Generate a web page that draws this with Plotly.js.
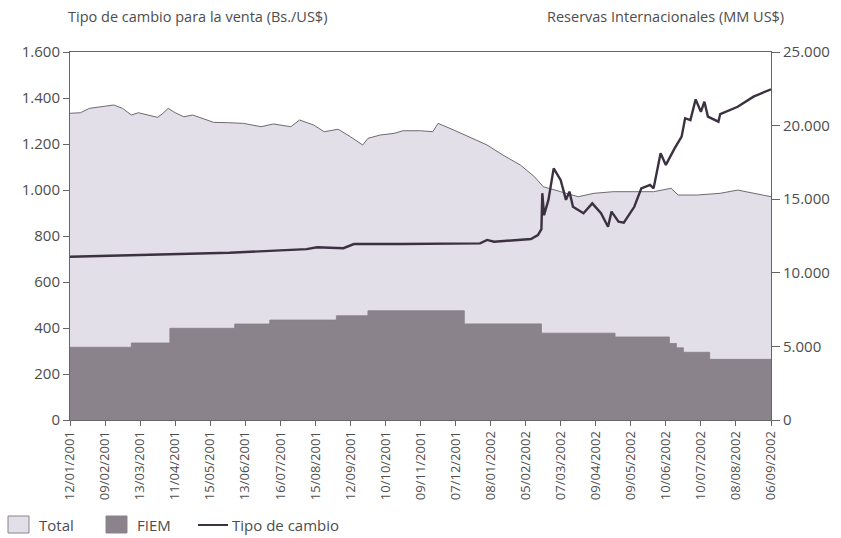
<!DOCTYPE html>
<html>
<head>
<meta charset="utf-8">
<script src="https://cdn.plot.ly/plotly-3.0.1.min.js"></script>
<style>html,body{margin:0;padding:0;background:#fff;}#chart{width:841px;height:538px;}</style>
</head>
<body>
<div id="chart"></div>
<script>
// Tick labels (one every 20 business days)
const tickLabels = ["12/01/2001","09/02/2001","13/03/2001","11/04/2001","15/05/2001","13/06/2001","16/07/2001","15/08/2001","12/09/2001","10/10/2001","09/11/2001","07/12/2001","08/01/2002","05/02/2002","07/03/2002","09/04/2002","09/05/2002","10/06/2002","10/07/2002","08/08/2002","06/09/2002"];
const daysPerTick = 20;

// Reservas internacionales totales (MM US$), by business-day index
const totalDay = [0,6,11,19,25,30,35,39,44,50,53,56,60,65,70,76,82,90,99,109,116,126,131,139,145,153,160,167,170,177,185,190,200,207,210,219,229,238,247,257,265,270,280,290,299,310,322,333,343,347,358,371,381,390,400];
const totalMM  = [20835,20875,21170,21330,21400,21170,20720,20875,20720,20560,20830,21170,20875,20600,20720,20490,20220,20200,20150,19925,20110,19925,20380,20040,19585,19750,19245,18680,19135,19360,19475,19650,19650,19585,20150,19700,19135,18680,18000,17320,16530,15850,15510,15170,15400,15510,15510,15510,15740,15285,15285,15400,15620,15400,15170];

// FIEM (MM US$), step changes
const fiemDay = [0,35,57,94,114,152,170,225,269,311,342,346,350,365,400];
const fiemMM  = [4940,5230,6230,6520,6790,7080,7420,6530,5900,5640,5200,4900,4600,4120,4120];

// Tipo de cambio para la venta (Bs./US$)
const tcDay = [0,46,91,135,141,156,162,189,234,238,242,263,267,269,269.5,270.5,273,276,280,283,285,287,293,298,303,307,309,313,316,322,326,331,333,337,340,345,349,351,354,357,360,362,364,370,371,381,390,400];
const tcBs  = [710,718,727,743,751,747,765,765,768,783,775,787,804,830,986,891,957,1094,1043,957,993,927,899,942,899,840,906,862,858,927,1007,1022,1007,1160,1109,1181,1232,1312,1304,1394,1340,1384,1319,1297,1330,1362,1406,1438];

// Legend entries
const legendNames = ["Total", "FIEM", "Tipo de cambio"];

const FONT = "Open Sans, Noto Sans, sans-serif";
const TXT = "#4d4d4d";
const TOTAL_FILL = "#e2dfe9", TOTAL_LINE = "#6f6a72";
const FIEM_FILL = "#8b838c";
const TC_LINE = "#3b3140";

const traces = [
  {x: totalDay, y: totalMM, name: legendNames[0], type: "scatter", mode: "lines", fill: "tozeroy",
   fillcolor: TOTAL_FILL, line: {color: TOTAL_LINE, width: 1}, yaxis: "y"},
  {x: fiemDay, y: fiemMM, name: legendNames[1], type: "scatter", mode: "lines", fill: "tozeroy",
   fillcolor: FIEM_FILL, line: {color: "#857d86", width: 0.8, shape: "hv"}, yaxis: "y"},
  {x: tcDay, y: tcBs, name: legendNames[2], type: "scatter", mode: "lines",
   line: {color: TC_LINE, width: 2.4}, yaxis: "y2"}
];

// plot area: x 70..771 px, y 52..420 px
const PW = 701, PH = 368, PL = 70, PB = 420;
const px = v => (v - PL) / PW;
const py = v => (PB - v) / PH;

const shapes = [
  {type: "rect", xref: "paper", yref: "paper", x0: px(8), x1: px(29), y0: py(533), y1: py(516),
   fillcolor: TOTAL_FILL, line: {color: "#8a858d", width: 1}},
  {type: "rect", xref: "paper", yref: "paper", x0: px(106), x1: px(127), y0: py(533), y1: py(516),
   fillcolor: FIEM_FILL, line: {color: FIEM_FILL, width: 1}},
  {type: "line", xref: "paper", yref: "paper", x0: px(198), x1: px(228), y0: py(525), y1: py(525),
   line: {color: TC_LINE, width: 2}}
];

const legendFont = {family: FONT, size: 15, color: TXT};
const annotations = [
  {text: "Tipo de cambio para la venta (Bs./US$)", xref: "paper", yref: "paper", x: px(66), y: py(28),
   xanchor: "left", yanchor: "bottom", showarrow: false, font: {family: FONT, size: 14.5, color: TXT}},
  {text: "Reservas Internacionales (MM US$)", xref: "paper", yref: "paper", x: px(786), y: py(28),
   xanchor: "right", yanchor: "bottom", showarrow: false, font: {family: FONT, size: 14.5, color: TXT}},
  {text: legendNames[0], xref: "paper", yref: "paper", x: px(37), y: py(525), xanchor: "left", yanchor: "middle",
   showarrow: false, font: legendFont},
  {text: legendNames[1], xref: "paper", yref: "paper", x: px(135), y: py(525), xanchor: "left", yanchor: "middle",
   showarrow: false, font: legendFont},
  {text: legendNames[2], xref: "paper", yref: "paper", x: px(230), y: py(525), xanchor: "left", yanchor: "middle",
   showarrow: false, font: legendFont}
];

const layout = {
  width: 841, height: 538,
  margin: {l: 70, r: 70, t: 52, b: 118, autoexpand: false},
  paper_bgcolor: "#ffffff", plot_bgcolor: "#ffffff",
  separators: ",.",
  font: {family: FONT, color: TXT, size: 13},
  showlegend: false,
  xaxis: {range: [0, 400], tickvals: tickLabels.map((_, i) => i * daysPerTick), ticktext: tickLabels,
          tickangle: -90, ticks: "outside", ticklen: 5, tickcolor: "#666", showgrid: false, zeroline: false,
          showline: true, linecolor: "#666", linewidth: 1, mirror: true, automargin: false,
          tickfont: {family: FONT, size: 13, color: TXT}},
  yaxis: {side: "right", range: [0, 25000], dtick: 5000, tickformat: ",d", ticks: "outside", ticklen: 8,
          tickcolor: "#666", showgrid: false, zeroline: false, showline: true, linecolor: "#666", linewidth: 1,
          automargin: false, tickfont: {family: FONT, size: 15, color: TXT}},
  yaxis2: {side: "left", overlaying: "y", range: [0, 1600], dtick: 200, tickformat: ",d", ticks: "outside",
           ticklen: 6, tickcolor: "#666", showgrid: false, zeroline: false, showline: true, linecolor: "#666",
           linewidth: 1, automargin: false, tickfont: {family: FONT, size: 15, color: TXT}},
  shapes: shapes,
  annotations: annotations
};

Plotly.newPlot("chart", traces, layout, {displayModeBar: false, staticPlot: true});
</script>
</body>
</html>
